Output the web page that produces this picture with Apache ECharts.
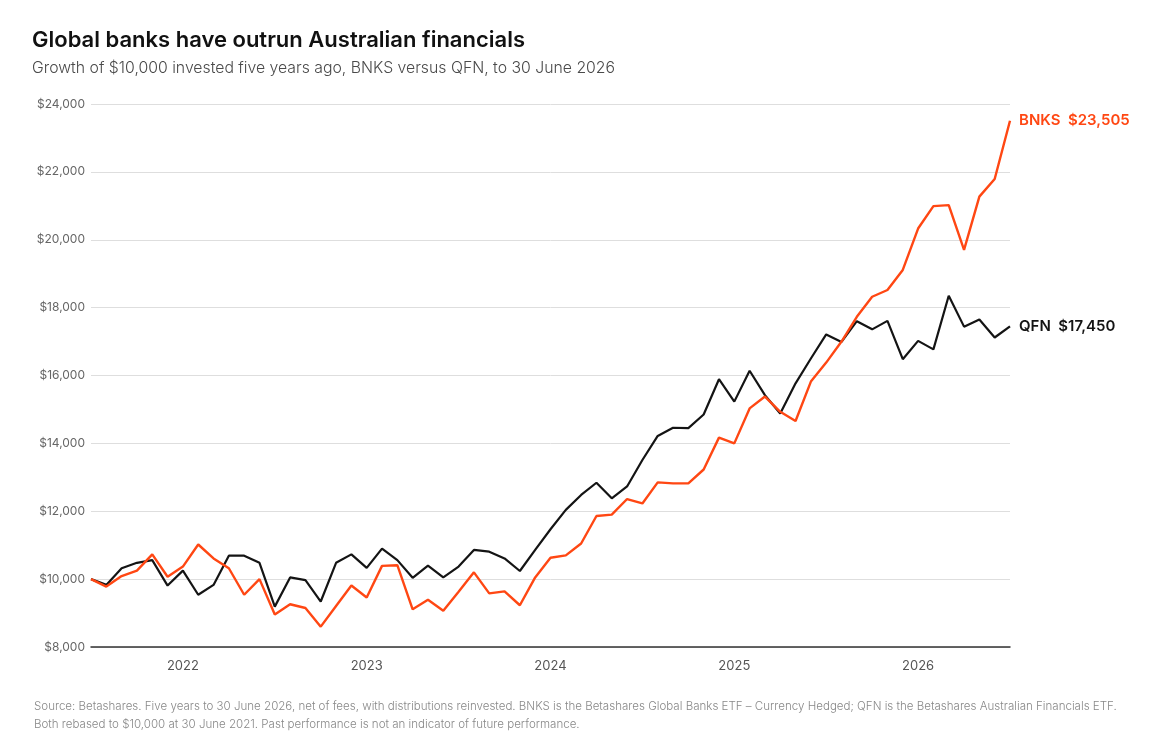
<!DOCTYPE html>
<html style="height: 100%">
<head>
  <meta charset="utf-8">
  <script src="https://cdn.jsdelivr.net/npm/echarts/dist/echarts.min.js"></script>
</head>
<body style="height: 100%; margin: 0; background: #fff">
  <div id="container" style="width: 1175px; height: 743px"></div>
  <script>
// month-end dates, June 2021 to June 2026
var months = [];
for (var y = 2021; y <= 2026; y++) {
  for (var m = 1; m <= 12; m++) {
    if ((y === 2021 && m < 6) || (y === 2026 && m > 6)) continue;
    months.push(y + '-' + (m < 10 ? '0' + m : m));
  }
}

// growth of $10,000
var bnks = [
  10000, 9780, 10090, 10250, 10730, 10070, 10370, 11020, 10610, 10320, 9540, 10000,
  8960, 9260, 9150, 8600, 9210, 9810, 9460, 10390, 10410, 9110, 9390, 9070,
  9630, 10200, 9580, 9640, 9230, 10050, 10630, 10700, 11050, 11860, 11900, 12360,
  12230, 12850, 12820, 12820, 13230, 14170, 14000, 15030, 15380, 14930, 14660, 15820,
  16380, 17000, 17730, 18320, 18520, 19110, 20330, 20990, 21020, 19700, 21270, 21790,
  23505
];
var qfn = [
  10000, 9830, 10320, 10480, 10560, 9810, 10250, 9540, 9830, 10690, 10690, 10480,
  9190, 10050, 9970, 9340, 10480, 10730, 10330, 10900, 10560, 10040, 10400, 10050,
  10370, 10860, 10810, 10610, 10240, 10860, 11470, 12040, 12480, 12840, 12380, 12730,
  13510, 14220, 14460, 14450, 14850, 15890, 15230, 16140, 15420, 14880, 15770, 16500,
  17210, 16990, 17600, 17360, 17610, 16480, 17020, 16770, 18350, 17440, 17650, 17120,
  17450
];

var orange = '#ff4713';
var ink = '#141414';

function money(v) {
  return '$' + v.toLocaleString('en-US');
}

var chart = echarts.init(document.getElementById('container'));

var option = {
  animation: false,
  textStyle: { fontFamily: 'Inter' },
  title: [
    {
      text: 'Global banks have outrun Australian financials',
      left: 27, top: 24,
      textStyle: { fontFamily: 'Inter', fontSize: 22, fontWeight: 600, color: '#111' }
    },
    {
      text: 'Growth of $10,000 invested five years ago, BNKS versus QFN, to 30 June 2026',
      left: 27, top: 55,
      textStyle: { fontFamily: 'Inter', fontSize: 15.8, fontWeight: 300, color: '#4a4a4a' }
    },
    {
      text: 'Source: Betashares. Five years to 30 June 2026, net of fees, with distributions reinvested. BNKS is the Betashares Global Banks ETF \u2013 Currency Hedged; QFN is the Betashares Australian Financials ETF.\nBoth rebased to $10,000 at 30 June 2021. Past performance is not an indicator of future performance.',
      left: 29, top: 693,
      textStyle: { fontFamily: 'Inter', fontSize: 11.55, fontWeight: 300, color: '#888', lineHeight: 18 }
    }
  ],
  grid: { left: 91, right: 165, top: 104, bottom: 96 },
  xAxis: {
    type: 'category',
    data: months,
    boundaryGap: false,
    axisLine: { lineStyle: { color: '#333', width: 1.5 } },
    axisTick: { show: false },
    axisLabel: {
      interval: function (i, val) { return val.slice(5) === '12'; },
      formatter: function (val) { return String(+val.slice(0, 4) + 1); },
      margin: 13,
      fontSize: 13,
      color: '#555'
    },
    splitLine: { show: false }
  },
  yAxis: {
    type: 'value',
    min: 8000, max: 24000, interval: 2000,
    axisLine: { show: false },
    axisTick: { show: false },
    axisLabel: { formatter: money, fontSize: 12, color: '#666', margin: 6 },
    splitLine: { lineStyle: { color: '#dedede', width: 1 } }
  },
  series: [
    {
      name: 'QFN', type: 'line', data: qfn,
      symbol: 'none', smooth: false,
      lineStyle: { color: ink, width: 2.2 },
      itemStyle: { color: ink },
      endLabel: {
        show: true, distance: 9,
        formatter: function (p) { return 'QFN  ' + money(p.value); },
        fontFamily: 'Inter', fontSize: 15, fontWeight: 600, color: ink
      }
    },
    {
      name: 'BNKS', type: 'line', data: bnks,
      symbol: 'none', smooth: false,
      lineStyle: { color: orange, width: 2.4 },
      itemStyle: { color: orange },
      endLabel: {
        show: true, distance: 9,
        formatter: function (p) { return 'BNKS  ' + money(p.value); },
        fontFamily: 'Inter', fontSize: 15, fontWeight: 600, color: orange
      }
    }
  ]
};

chart.setOption(option);
  </script>
</body>
</html>
